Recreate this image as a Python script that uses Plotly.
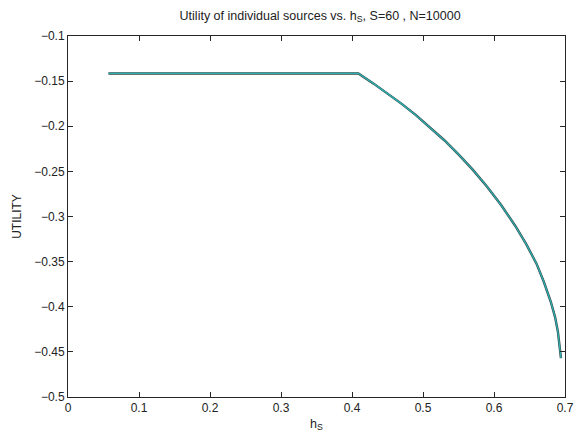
import plotly.graph_objects as go

# Data
h_s = [0.057, 0.409, 0.430, 0.450, 0.470, 0.490, 0.510, 0.530, 0.550, 0.570,
       0.590, 0.610, 0.630, 0.645, 0.660, 0.670, 0.680, 0.686, 0.690, 0.6925, 0.6943]
utility = [-0.1415, -0.1415, -0.1525, -0.1635, -0.1752, -0.1877, -0.2011, -0.2155,
           -0.2311, -0.2481, -0.2667, -0.2873, -0.3105, -0.3300, -0.3525, -0.3720,
           -0.3945, -0.4115, -0.4275, -0.4420, -0.4570]

x_ticks = [0, 0.1, 0.2, 0.3, 0.4, 0.5, 0.6, 0.7]
x_ticklabels = ["0", "0.1", "0.2", "0.3", "0.4", "0.5", "0.6", "0.7"]
y_ticks = [-0.5, -0.45, -0.4, -0.35, -0.3, -0.25, -0.2, -0.15, -0.1]
y_ticklabels = ["\u22120.5", "\u22120.45", "\u22120.4", "\u22120.35", "\u22120.3",
                "\u22120.25", "\u22120.2", "\u22120.15", "\u22120.1"]

fig = go.Figure()
fig.add_trace(go.Scatter(x=h_s, y=utility, mode="lines",
                         line=dict(color="#354545", width=2.4),
                         showlegend=False, hoverinfo="skip"))
fig.add_trace(go.Scatter(x=h_s, y=utility, mode="lines",
                         line=dict(color="#2fb0b0", width=1.3),
                         showlegend=False))

font = "Liberation Sans, Arial, sans-serif"
axis_common = dict(showline=True, linecolor="#262626", linewidth=1, mirror="ticks",
                   ticks="inside", ticklen=5, tickcolor="#262626", showgrid=False,
                   zeroline=False, ticklabeloverflow="allow",
                   tickfont=dict(family=font, size=12, color="#222"))

fig.update_layout(
    width=582, height=436,
    margin=dict(l=68, r=8, t=36, b=39),
    paper_bgcolor="white", plot_bgcolor="white",
    title=dict(text="Utility of individual sources vs. h<sub>S</sub>, S=60 , N=10000",
               x=0.55, xanchor="center", y=0.965, yanchor="middle",
               font=dict(family=font, size=12.5, color="#222")),
    xaxis=dict(range=[0, 0.7], tickvals=x_ticks, ticktext=x_ticklabels,
               title=dict(text="h<sub>S</sub>", standoff=4,
                          font=dict(family=font, size=12.5, color="#222")),
               **axis_common),
    yaxis=dict(range=[-0.5, -0.1], tickvals=y_ticks, ticktext=y_ticklabels,
               title=dict(text="UTILITY", standoff=10,
                          font=dict(family=font, size=12, color="#222")),
               **axis_common),
)

fig.write_html("out.html")
